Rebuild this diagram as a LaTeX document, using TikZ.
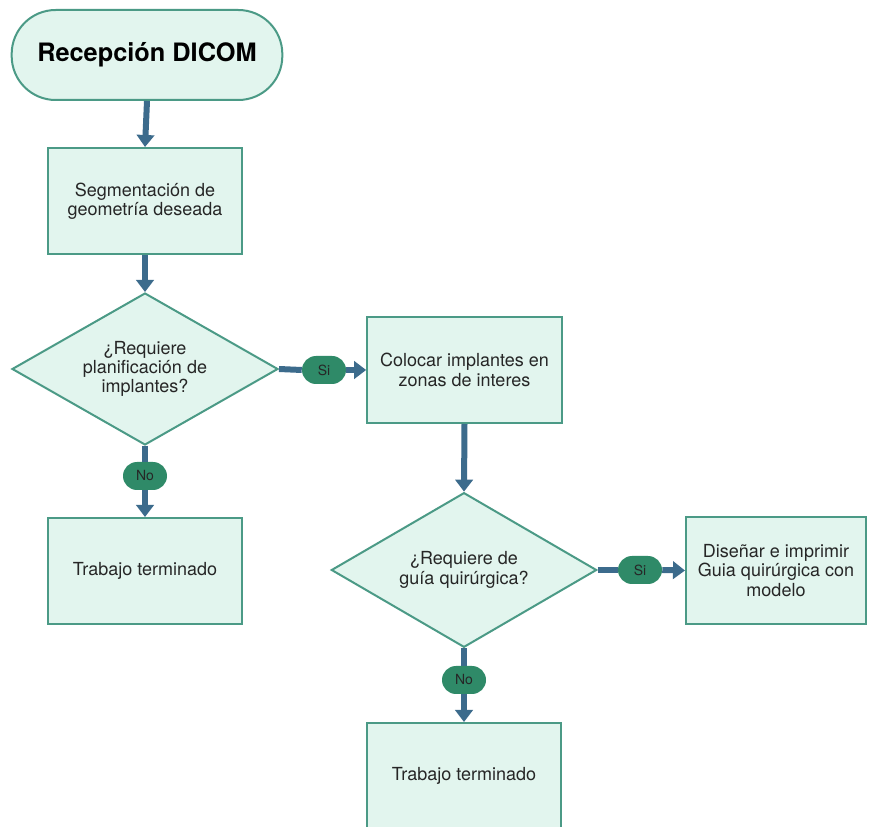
\documentclass[tikz,border=0pt]{standalone}
\usepackage{fontspec}
\setmainfont{TeX Gyre Heros}
\usetikzlibrary{shapes.geometric,arrows.meta}
\definecolor{mint}{HTML}{E2F5EE}
\definecolor{edge}{HTML}{4B9A86}
\definecolor{arrowc}{HTML}{3C6B8C}
\definecolor{pillc}{HTML}{2F8A68}
\definecolor{txt}{HTML}{262626}
\tikzset{
  px/.style={x=0.75pt,y=-0.75pt},
  procbox/.style={draw=edge,fill=mint,line width=1.5pt,rectangle,inner sep=0pt,
    align=center,text=txt,font=\fontsize{13.5}{14.5}\selectfont},
  term/.style={draw=edge,fill=mint,line width=1.5pt,rectangle,rounded corners=33pt,
    inner sep=0pt,text=black,font=\fontsize{19}{22}\selectfont\bfseries},
  dia/.style={draw=edge,fill=mint,line width=1.5pt,diamond,inner sep=0pt},
  diatext/.style={align=center,text=txt,font=\fontsize{13.5}{14.5}\selectfont},
  pill/.style={fill=pillc,rounded corners=10.5pt,inner sep=0pt,minimum width=33pt,
    minimum height=21pt,text=txt,font=\fontsize{10.5}{12}\selectfont},
  flow/.style={draw=arrowc,line width=4.5pt,-{Triangle[width=13pt,length=9pt]}},
  flowline/.style={draw=arrowc,line width=4.5pt},
}
\begin{document}
\begin{tikzpicture}[px]
\clip (0,0) rectangle (869,827);
\fill[white] (0,0) rectangle (869,827);
% nodes
\node[term,minimum width=203pt,minimum height=67.5pt] (start) at (147,55) {Recepción DICOM};
\node[procbox,minimum width=145.5pt,minimum height=79.5pt] (seg) at (145,201) {Segmentación de\\geometría deseada};
\node[dia,minimum width=199.5pt,minimum height=114pt] (d1) at (145,369) {};
\node[diatext] (d1t) at (145,369) {¿Requiere\\planificación de\\implantes?};
\node[procbox,minimum width=146pt,minimum height=79.5pt] (col) at (464.5,370) {Colocar implantes en\\zonas de interes};
\node[dia,minimum width=199pt,minimum height=116pt] (d2) at (464,570) {};
\node[diatext] (d2t) at (464,570) {¿Requiere de\\guía quirúrgica?};
\node[procbox,minimum width=135pt,minimum height=80pt] (dis) at (776,570.5) {Diseñar e imprimir\\Guia quirúrgica con\\modelo};
\node[procbox,minimum width=145.5pt,minimum height=79.5pt] (fin1) at (145,571) {Trabajo terminado};
\node[procbox,minimum width=145.5pt,minimum height=79.5pt] (fin2) at (464,776) {Trabajo terminado};
% pills
\node[pill] (si1) at (324,370) {Si};
\node[pill] (si2) at (640,570) {Si};
\node[pill] (no1) at (145,476) {No};
\node[pill] (no2) at (464,680) {No};
% connectors
\draw[flow] (start.south) -- (seg.north);
\draw[flow] (seg.south) -- (d1.north);
\draw[flowline] (d1.east) -- (si1.west);
\draw[flow] (si1.east) -- (col.west);
\draw[flow] (col.south) -- (d2.north);
\draw[flowline] (d2.east) -- (si2.west);
\draw[flow] (si2.east) -- (dis.west);
\draw[flowline] (d1.south) -- (no1.north);
\draw[flow] (no1.south) -- (fin1.north);
\draw[flowline] (d2.south) -- (no2.north);
\draw[flow] (no2.south) -- (fin2.north);
\end{tikzpicture}
\end{document}
